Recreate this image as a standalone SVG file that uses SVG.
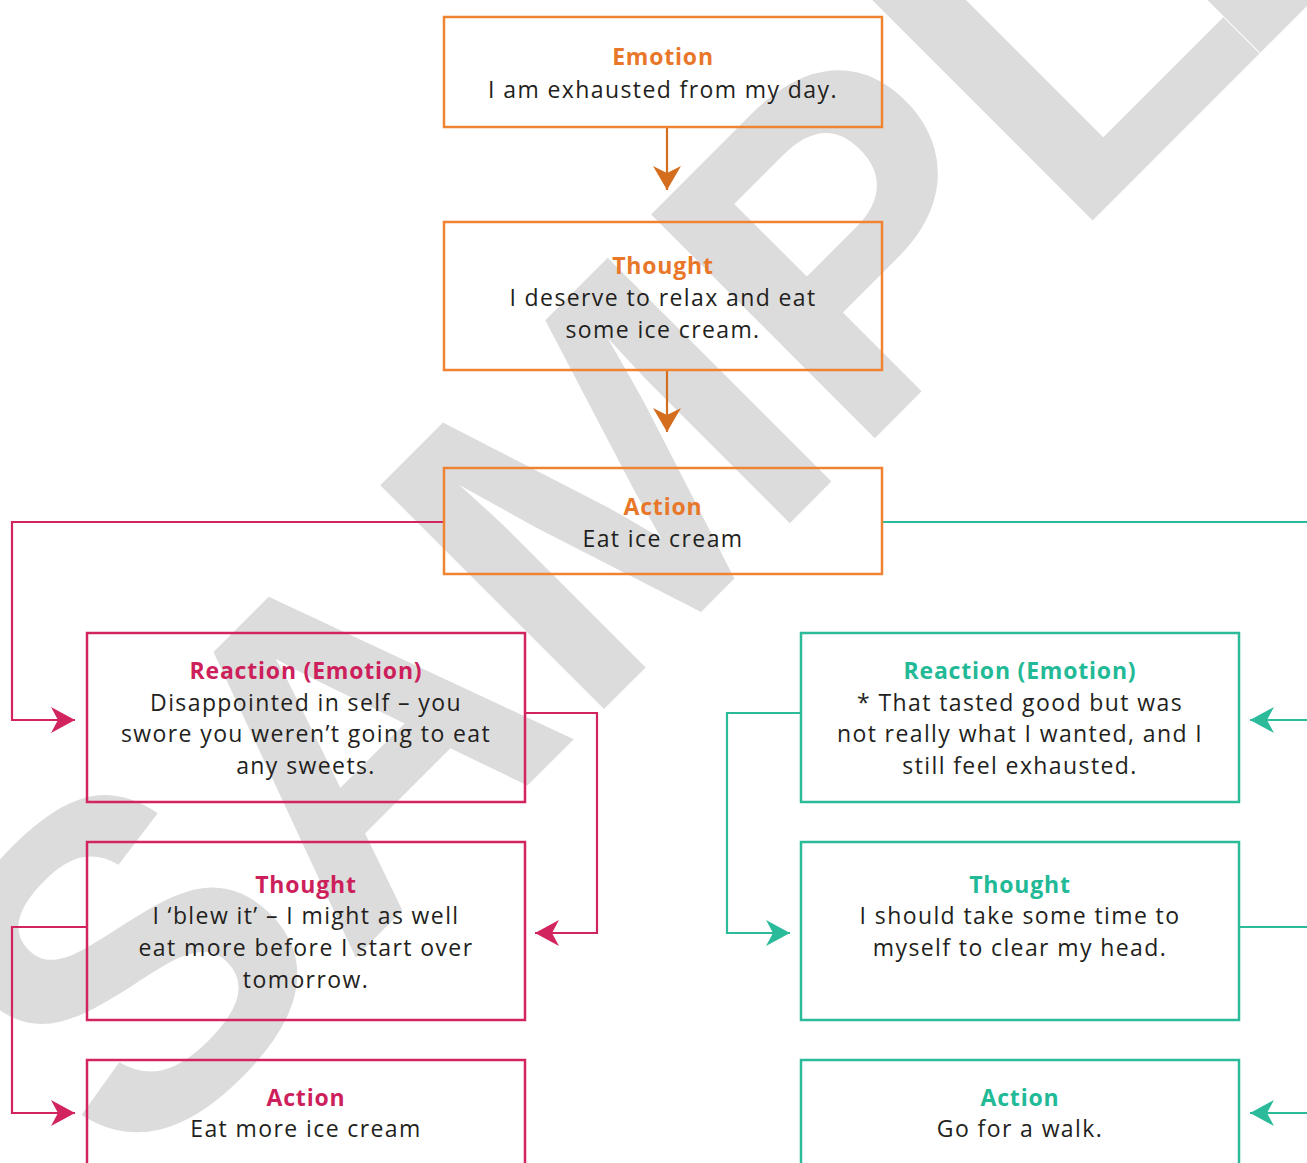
<svg xmlns="http://www.w3.org/2000/svg" width="1307" height="1163" viewBox="0 0 1307 1163">
<style>
  .wm { font-family: "Liberation Sans", Arial, sans-serif; font-weight: 700; font-size: 460px; fill: #dcdcdc; }
  .box { fill: none; stroke-width: 2.5; }
  .o { stroke: #ee8332; }
  .p { stroke: #d2255f; }
  .t { stroke: #2bbb9b; }
  .ttl { font-family: "Open Sans", "Liberation Sans", sans-serif; font-weight: 700; font-size: 23px; text-anchor: middle; letter-spacing: 0.8px; }
  .txt { font-family: "Open Sans", "Liberation Sans", sans-serif; font-size: 23px; fill: #231f20; text-anchor: middle; letter-spacing: 1.4px; }
  .to { fill: #e8772a; }
  .tp { fill: #cc1f5b; }
  .tt { fill: #22b996; }
  .conn path { fill: none; stroke-width: 2.2; }
</style>
<defs>
  <marker id="ao" markerUnits="userSpaceOnUse" markerWidth="30" markerHeight="30" viewBox="-26 -15 28 30" refX="0" refY="0" orient="auto">
    <path d="M0,0 L-24,-14 L-17,0 L-24,14 Z" fill="#d56d1f"/>
  </marker>
  <marker id="ap" markerUnits="userSpaceOnUse" markerWidth="30" markerHeight="30" viewBox="-26 -15 28 30" refX="0" refY="0" orient="auto">
    <path d="M0,0 L-24,-13 L-17,0 L-24,13 Z" fill="#d2255f"/>
  </marker>
  <marker id="at" markerUnits="userSpaceOnUse" markerWidth="30" markerHeight="30" viewBox="-26 -15 28 30" refX="0" refY="0" orient="auto">
    <path d="M0,0 L-24,-13 L-17,0 L-24,13 Z" fill="#2bbb9b"/>
  </marker>
</defs>
<rect x="0" y="0" width="1307" height="1163" fill="#ffffff"/>
<text class="wm" transform="translate(656.5,656.5) rotate(-45)" x="-744 -437 -105 278 586 823" y="0">SAMPLE</text>

<g class="conn">
  <path d="M667,127 V190" stroke="#d56d1f" marker-end="url(#ao)"/>
  <path d="M667,370 V432" stroke="#d56d1f" marker-end="url(#ao)"/>
  <path d="M444,522 H12 V720 H75" stroke="#d2255f" marker-end="url(#ap)"/>
  <path d="M525,713 H597 V933 H535" stroke="#d2255f" marker-end="url(#ap)"/>
  <path d="M86,927 H12 V1113 H75" stroke="#d2255f" marker-end="url(#ap)"/>
  <path d="M882,522 H1307" stroke="#2bbb9b"/>
  <path d="M1310,720 H1250" stroke="#2bbb9b" marker-end="url(#at)"/>
  <path d="M801,713 H727 V933 H790" stroke="#2bbb9b" marker-end="url(#at)"/>
  <path d="M1239,927 H1307" stroke="#2bbb9b"/>
  <path d="M1310,1113 H1250" stroke="#2bbb9b" marker-end="url(#at)"/>
</g>

<g id="emotion">
  <rect class="box o" x="444" y="17" width="438" height="110"/>
  <text class="ttl to" x="663" y="65">Emotion</text>
  <text class="txt" x="663" y="98">I am exhausted from my day.</text>
</g>
<g id="thought">
  <rect class="box o" x="444" y="222" width="438" height="148"/>
  <text class="ttl to" x="663" y="274">Thought</text>
  <text class="txt" x="663" y="306">I deserve to relax and eat</text>
  <text class="txt" x="663" y="338">some ice cream.</text>
</g>
<g id="action">
  <rect class="box o" x="444" y="468" width="438" height="106"/>
  <text class="ttl to" x="663" y="515">Action</text>
  <text class="txt" x="663" y="547">Eat ice cream</text>
</g>

<g id="reaction-neg">
  <rect class="box p" x="87" y="633" width="438" height="169"/>
  <text class="ttl tp" x="306" y="679">Reaction (Emotion)</text>
  <text class="txt" x="306" y="711">Disappointed in self – you</text>
  <text class="txt" x="306" y="742">swore you weren’t going to eat</text>
  <text class="txt" x="306" y="774">any sweets.</text>
</g>
<g id="thought-neg">
  <rect class="box p" x="87" y="842" width="438" height="178"/>
  <text class="ttl tp" x="306" y="893">Thought</text>
  <text class="txt" x="306" y="924">I ‘blew it’ – I might as well</text>
  <text class="txt" x="306" y="956">eat more before I start over</text>
  <text class="txt" x="306" y="988">tomorrow.</text>
</g>
<g id="action-neg">
  <rect class="box p" x="87" y="1060" width="438" height="140"/>
  <text class="ttl tp" x="306" y="1106">Action</text>
  <text class="txt" x="306" y="1137">Eat more ice cream</text>
</g>

<g id="reaction-pos">
  <rect class="box t" x="801" y="633" width="438" height="169"/>
  <text class="ttl tt" x="1020" y="679">Reaction (Emotion)</text>
  <text class="txt" x="1020" y="711">* That tasted good but was</text>
  <text class="txt" x="1020" y="742">not really what I wanted, and I</text>
  <text class="txt" x="1020" y="774">still feel exhausted.</text>
</g>
<g id="thought-pos">
  <rect class="box t" x="801" y="842" width="438" height="178"/>
  <text class="ttl tt" x="1020" y="893">Thought</text>
  <text class="txt" x="1020" y="924">I should take some time to</text>
  <text class="txt" x="1020" y="956">myself to clear my head.</text>
</g>
<g id="action-pos">
  <rect class="box t" x="801" y="1060" width="438" height="140"/>
  <text class="ttl tt" x="1020" y="1106">Action</text>
  <text class="txt" x="1020" y="1137">Go for a walk.</text>
</g>
</svg>
